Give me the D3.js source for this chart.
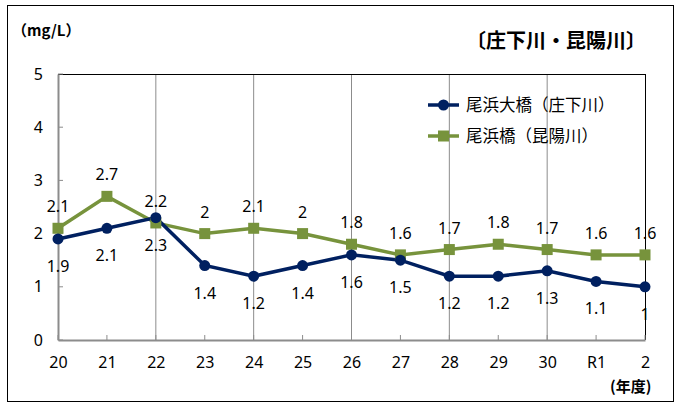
<!DOCTYPE html>
<html><head><meta charset="utf-8">
<script src="https://cdn.jsdelivr.net/npm/d3@7"></script>
<style>body{margin:0;background:#fff}svg{display:block}</style>
</head><body><svg id="c" width="683" height="403"></svg>
<script>
const categories = ["20","21","22","23","24","25","26","27","28","29","30","R1","2"];
const shoge = [1.9,2.1,2.3,1.4,1.2,1.4,1.6,1.5,1.2,1.2,1.3,1.1,1.0];
const koya = [2.1,2.7,2.2,2,2.1,2,1.8,1.6,1.7,1.8,1.7,1.6,1.6];
const yTicks = [0,1,2,3,4,5];
const seriesNames = ["尾浜大橋（庄下川）","尾浜橋（昆陽川）"];
const title = "〔庄下川・昆陽川〕";
const unit = "（mg/L）";
const xUnit = "(年度)";

const svg = d3.select("#c");
const font = "'Noto Sans','Noto Sans CJK JP',sans-serif";
const jp = "'Noto Sans CJK JP',sans-serif";
const L=58,R=645,T=74,B=340;
const x = d3.scalePoint().domain(categories).range([L,R]);
const y = d3.scaleLinear().domain([0,5]).range([B,T]);
const navy="#002060", green="#77933C";
const fs = 16;

svg.append("rect").attr("x",7.5).attr("y",5.5).attr("width",666).attr("height",396).attr("fill","none").attr("stroke","#000").attr("stroke-width",1);

// gridlines (every 2nd category)
const g = svg.append("g");
categories.forEach((c,i)=>{ if(i>0 && i%2===0 && i<categories.length-1){
  g.append("line").attr("x1",x(c)).attr("x2",x(c)).attr("y1",T).attr("y2",B).attr("stroke","#8c8c8c").attr("stroke-width",1);
}});
// plot border top & right
svg.append("line").attr("x1",L).attr("x2",R).attr("y1",T+0.5).attr("y2",T+0.5).attr("stroke","#000");
svg.append("line").attr("x1",R+0.5).attr("x2",R+0.5).attr("y1",T).attr("y2",B).attr("stroke","#000");

// axes
const xa = svg.append("g").attr("transform",`translate(0,${B})`).call(d3.axisBottom(x).tickSize(0).tickPadding(17));
xa.select(".domain").attr("stroke","#8c8c8c").attr("stroke-width",2);
xa.selectAll("text").attr("font-family",font).attr("font-size",fs).attr("fill","#000");
categories.forEach(c=>{ svg.append("line").attr("x1",x(c)).attr("x2",x(c)).attr("y1",B).attr("y2",B-5).attr("stroke","#8c8c8c"); });

const ya = svg.append("g").attr("transform",`translate(${L},0)`).call(d3.axisLeft(y).tickValues(yTicks).tickSize(0).tickPadding(15).tickFormat(d3.format("d")));
ya.select(".domain").attr("stroke","#8c8c8c").attr("stroke-width",2);
ya.selectAll("text").attr("font-family",font).attr("font-size",fs).attr("fill","#000");
yTicks.forEach(v=>{ svg.append("line").attr("x1",L).attr("x2",L+5).attr("y1",y(v)).attr("y2",y(v)).attr("stroke","#8c8c8c"); });

const line = d3.line().x((d,i)=>x(categories[i])).y(d=>y(d));
// series
svg.append("path").datum(koya).attr("d",line).attr("fill","none").attr("stroke",green).attr("stroke-width",3.5);
svg.append("path").datum(shoge).attr("d",line).attr("fill","none").attr("stroke",navy).attr("stroke-width",3.5);
svg.selectAll(".sq").data(koya).join("rect").attr("x",(d,i)=>x(categories[i])-5.5).attr("y",d=>y(d)-5.5).attr("width",11).attr("height",11).attr("fill",green);
svg.selectAll(".ci").data(shoge).join("circle").attr("cx",(d,i)=>x(categories[i])).attr("cy",d=>y(d)).attr("r",5.5).attr("fill",navy);

// labels
svg.selectAll(".lk").data(koya).join("text").attr("x",(d,i)=>x(categories[i])).attr("y",d=>y(d)-16)
  .attr("text-anchor","middle").attr("font-family",font).attr("font-size",fs).text(d=>String(d));
svg.selectAll(".ls").data(shoge).join("text").attr("x",(d,i)=>x(categories[i])).attr("y",d=>y(d)+33)
  .attr("text-anchor","middle").attr("font-family",font).attr("font-size",fs).text(d=>String(d));

// legend
const lg=[[navy,"c"],[green,"s"]];
lg.forEach((l,i)=>{
  const yy=105+i*31;
  svg.append("line").attr("x1",428).attr("x2",459).attr("y1",yy).attr("y2",yy).attr("stroke",l[0]).attr("stroke-width",3.5);
  if(l[1]==="c") svg.append("circle").attr("cx",443.5).attr("cy",yy).attr("r",5.5).attr("fill",l[0]);
  else svg.append("rect").attr("x",438).attr("y",yy-5.5).attr("width",11).attr("height",11).attr("fill",l[0]);
  svg.append("text").attr("x",466).attr("y",yy+6).attr("font-family",jp).attr("font-size",16.5).text(seriesNames[i]);
});

svg.append("text").attr("x",466).attr("y",48).attr("font-family",jp).attr("font-weight","bold").attr("font-size",20).text(title);
svg.append("text").attr("x",12).attr("y",36).attr("font-family",jp).attr("font-weight","bold").attr("font-size",15).text(unit);
svg.append("text").attr("x",610).attr("y",392).attr("font-family",jp).attr("font-weight","bold").attr("font-size",15).text(xUnit);
</script></body></html>
